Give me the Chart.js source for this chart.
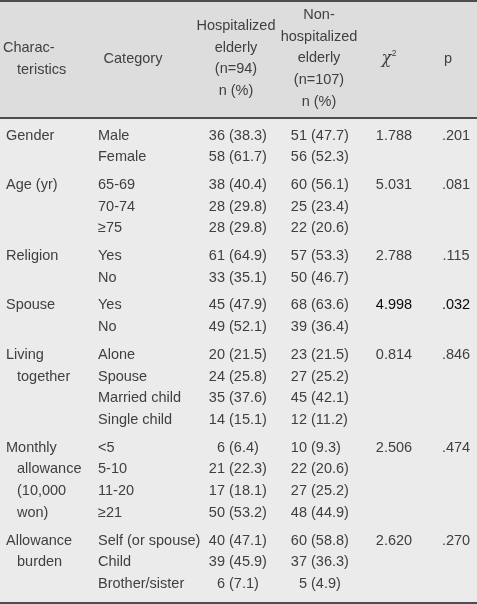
<!DOCTYPE html>
<html>
<head>
<meta charset="utf-8">
<script src="https://cdn.jsdelivr.net/npm/chart.js@4/dist/chart.umd.min.js"></script>
<style>
html,body{margin:0;padding:0;background:#ebebeb;}
canvas{display:block;}
</style>
</head>
<body>
<canvas id="c" width="477" height="604"></canvas>
<script>
const groupLabels = [['Gender'], ['Age (yr)'], ['Religion'], ['Spouse'], ['Living', 'together'], ['Monthly', 'allowance', '(10,000', 'won)'], ['Allowance', 'burden']];
const groupSizes = [2, 3, 2, 2, 4, 4, 3];
const categories = ['Male', 'Female', '65-69', '70-74', '\u226575', 'Yes', 'No', 'Yes', 'No', 'Alone', 'Spouse', 'Married child', 'Single child', '<5', '5-10', '11-20', '\u226521', 'Self (or spouse)', 'Child', 'Brother/sister'];
const hospN = [36, 58, 38, 28, 28, 61, 33, 45, 49, 20, 24, 35, 14, 6, 21, 17, 50, 40, 39, 6];
const hospPct = [38.3, 61.7, 40.4, 29.8, 29.8, 64.9, 35.1, 47.9, 52.1, 21.5, 25.8, 37.6, 15.1, 6.4, 22.3, 18.1, 53.2, 47.1, 45.9, 7.1];
const nonN = [51, 56, 60, 25, 22, 57, 50, 68, 39, 23, 27, 45, 12, 10, 22, 27, 48, 60, 37, 5];
const nonPct = [47.7, 52.3, 56.1, 23.4, 20.6, 53.3, 46.7, 63.6, 36.4, 21.5, 25.2, 42.1, 11.2, 9.3, 20.6, 25.2, 44.9, 58.8, 36.3, 4.9];
const chi2 = ['1.788', '5.031', '2.788', '4.998', '0.814', '2.506', '2.620'];
const pValues = ['.201', '.081', '.115', '.032', '.846', '.474', '.270'];
const significant = [false, false, false, true, false, false, false];
const headers = {
  chars: ['Charac-', 'teristics'],
  category: ['Category'],
  hosp: ['Hospitalized', 'elderly', '(n=94)', 'n (%)'],
  non: ['Non-', 'hospitalized', 'elderly', '(n=107)', 'n (%)'],
  p: ['p']
};

// ---- layout (pixel-like units of the hidden scales) ----
const FONT = '"Liberation Sans", Arial, sans-serif';
const FS = 14.5;
const TXT = '#404040';
const BOLD = '#0a0a0a';
const ROW0 = 135.5, ROWSTEP = 21.8, GROUPGAP = 5.75, HEADSTEP = 21.7;

const groupOfRow = [];
const groupStart = [];
groupSizes.forEach((n, g) => { groupStart.push(groupOfRow.length); for (let k = 0; k < n; k++) groupOfRow.push(g); });
const rowY = i => ROW0 + i * ROWSTEP + groupOfRow[i] * GROUPGAP;

function ds(points, texts, align, colors) {
  return { data: points, texts, align, colors: colors || texts.map(() => TXT), pointRadius: 0, showLine: false };
}

const datasets = [];
// category column
datasets.push(ds(categories.map((c, i) => ({ x: 98, y: rowY(i) })), categories, 'left'));
// characteristics column
{
  const pts = [], tx = [];
  groupLabels.forEach((lines, g) => lines.forEach((l, k) => { pts.push({ x: k === 0 ? 6 : 17, y: rowY(groupStart[g] + k) }); tx.push(l); }));
  datasets.push(ds(pts, tx, 'left'));
}
// hospitalized n and (%)
datasets.push(ds(hospN.map((v, i) => ({ x: 225, y: rowY(i) })), hospN.map(String), 'right'));
datasets.push(ds(hospPct.map((v, i) => ({ x: 229, y: rowY(i) })), hospPct.map(v => '(' + v.toFixed(1) + ')'), 'left'));
// non-hospitalized n and (%)
datasets.push(ds(nonN.map((v, i) => ({ x: 307, y: rowY(i) })), nonN.map(String), 'right'));
datasets.push(ds(nonPct.map((v, i) => ({ x: 311, y: rowY(i) })), nonPct.map(v => '(' + v.toFixed(1) + ')'), 'left'));
// chi-square and p
datasets.push(ds(chi2.map((v, g) => ({ x: 394, y: rowY(groupStart[g]) })), chi2, 'center', significant.map(s => s ? BOLD : TXT)));
datasets.push(ds(pValues.map((v, g) => ({ x: 456, y: rowY(groupStart[g]) })), pValues, 'center', significant.map(s => s ? BOLD : TXT)));
// header
datasets.push(ds([{ x: 3, y: 48 }, { x: 17, y: 70 }], headers.chars, 'left'));
datasets.push(ds([{ x: 133, y: 59 }], headers.category, 'center'));
datasets.push(ds(headers.hosp.map((t, k) => ({ x: 236, y: 26 + k * HEADSTEP })), headers.hosp, 'center'));
datasets.push(ds(headers.non.map((t, k) => ({ x: 319, y: 15 + k * HEADSTEP })), headers.non, 'center'));
datasets.push(ds([{ x: 448, y: 59 }], headers.p, 'center'));

const tablePlugin = {
  id: 'table',
  beforeDraw(chart) {
    const { ctx, scales: { x, y } } = chart;
    const x0 = x.getPixelForValue(0), x1 = x.getPixelForValue(477);
    ctx.save();
    ctx.fillStyle = '#ebebeb';
    ctx.fillRect(x0, y.getPixelForValue(0), x1 - x0, y.getPixelForValue(604) - y.getPixelForValue(0));
    ctx.fillStyle = '#dddddd';
    ctx.fillRect(x0, y.getPixelForValue(0), x1 - x0, y.getPixelForValue(118) - y.getPixelForValue(0));
    ctx.fillStyle = '#4d4d4d';
    [[0, 2], [117, 119], [602, 604]].forEach(([a, b]) => {
      ctx.fillRect(x0, y.getPixelForValue(a), x1 - x0, y.getPixelForValue(b) - y.getPixelForValue(a));
    });
    ctx.restore();
  },
  afterDatasetsDraw(chart) {
    const { ctx, scales: { x, y } } = chart;
    ctx.save();
    ctx.textBaseline = 'middle';
    chart.data.datasets.forEach((d, di) => {
      const meta = chart.getDatasetMeta(di);
      ctx.textAlign = d.align;
      meta.data.forEach((el, i) => {
        ctx.fillStyle = d.colors[i];
        ctx.font = FS + 'px ' + FONT;
        ctx.fillText(d.texts[i], el.x, el.y);
      });
    });
    // chi-square header symbol
    const cx = x.getPixelForValue(381.5), cy = y.getPixelForValue(59);
    ctx.textAlign = 'left';
    ctx.fillStyle = TXT;
    ctx.font = 'italic 16px "DejaVu Serif", serif';
    ctx.fillText('\u03C7', cx, cy);
    const w = ctx.measureText('\u03C7').width;
    ctx.font = '8.5px ' + FONT;
    ctx.fillText('2', cx + w + 0.5, cy - 5);
    ctx.restore();
  }
};

new Chart(document.getElementById('c'), {
  type: 'scatter',
  data: { datasets },
  options: {
    responsive: false,
    animation: false,
    events: [],
    layout: { padding: 0 },
    plugins: { legend: { display: false }, tooltip: { enabled: false } },
    scales: {
      x: { type: 'linear', min: 0, max: 477, display: false },
      y: { type: 'linear', min: 0, max: 604, reverse: true, display: false }
    }
  },
  plugins: [tablePlugin]
});
</script>
</body>
</html>
